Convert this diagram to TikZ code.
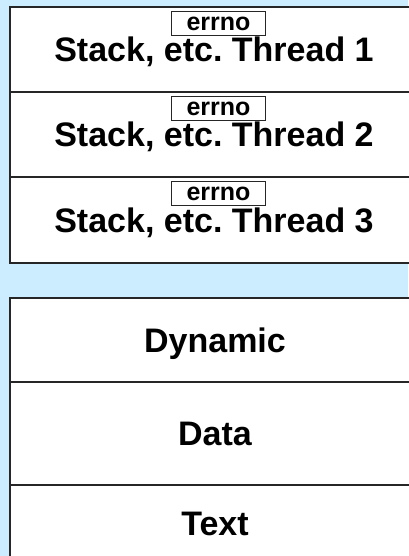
\documentclass[tikz,border=0pt]{standalone}
\usepackage{fontspec}
\setmainfont{Liberation Sans}
\usepackage{tikz}
\definecolor{slideblue}{RGB}{204,236,255}
\frenchspacing

\begin{document}
\begin{tikzpicture}[x=1pt,y=-1pt,
    seg/.style={draw=black!85, line width=1.3pt, fill=white},
    lbl/.style={font=\bfseries\fontsize{34}{36}\selectfont, anchor=base},
    errbox/.style={draw=black!85, line width=0.9pt, fill=white, inner sep=0pt,
        minimum width=94pt, minimum height=24pt, font=\bfseries\fontsize{25}{27}\selectfont}]

    % Background
    \fill[slideblue] (0,0) rectangle (408,556);
    \useasboundingbox (0,0) rectangle (408,556);

    % Thread stacks
    \draw[seg] (10,7) rectangle (420,263);
    \draw[seg] (10,92) -- (420,92);
    \draw[seg] (10,177) -- (420,177);
    \foreach \i/\t in {1/7,2/92,3/177} {
        \node[lbl] (stack\i) at (214,\t+55) {Stack, etc. Thread \i};
        \node[errbox] (errno\i) at (218.5,\t+16.5) {errno};
    }

    % Shared segments
    \draw[seg] (10,298) rectangle (420,600);
    \draw[seg] (10,382) -- (420,382);
    \draw[seg] (10,485) -- (420,485);
    \node[lbl] (dynamic) at (215,352) {Dynamic};
    \node[lbl] (data) at (215,445) {Data};
    \node[lbl] (text) at (215,535) {Text};

\end{tikzpicture}
\end{document}
